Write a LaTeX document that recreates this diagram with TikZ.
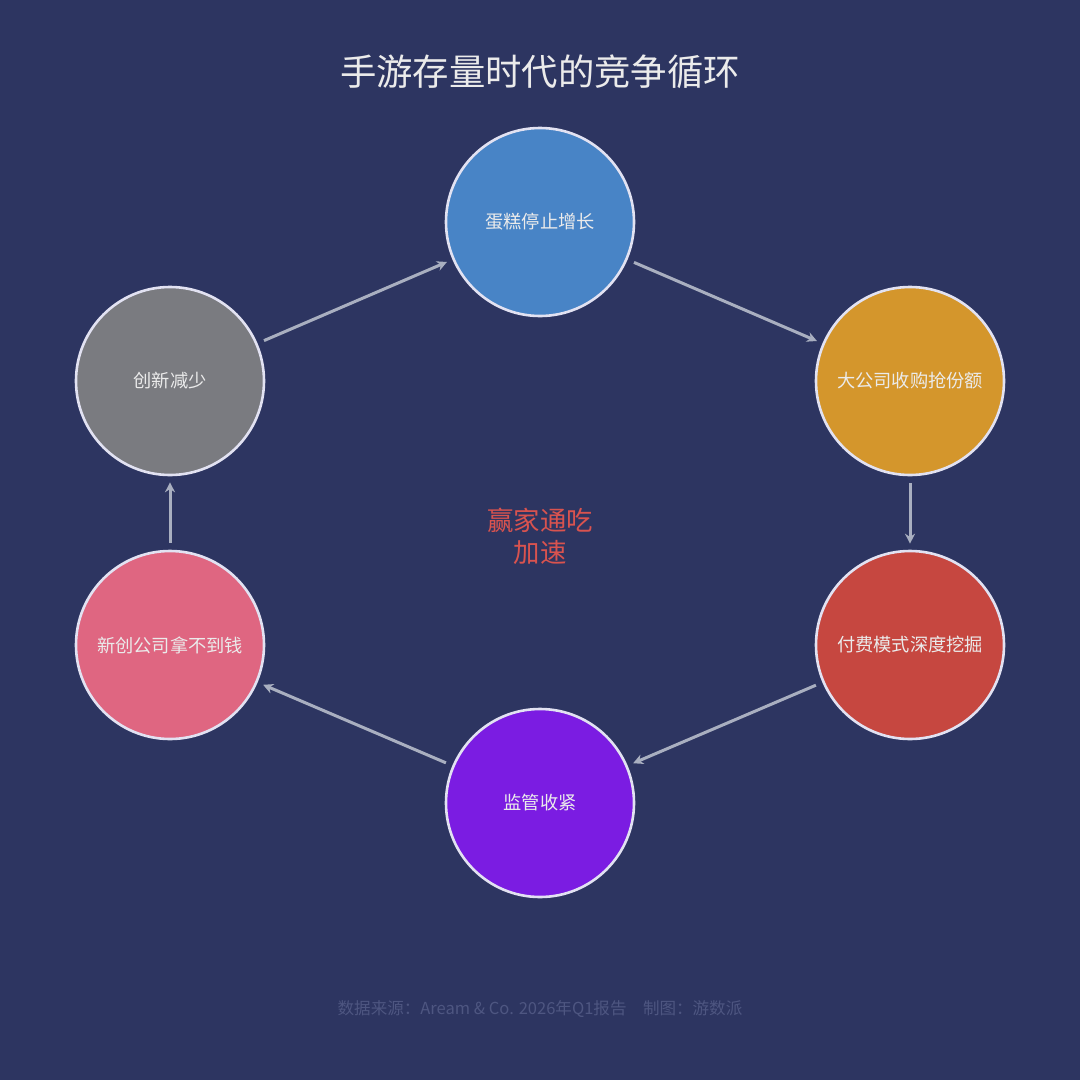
\documentclass[tikz,border=0pt]{standalone}
\usepackage{fontspec}
\setmainfont{Noto Sans CJK SC}
\usetikzlibrary{shapes.geometric, arrows.meta}

\definecolor{bgnavy}{HTML}{2D3561}
\definecolor{ringline}{HTML}{E2E2F2}
\definecolor{arrowgray}{HTML}{A9AFC0}
\definecolor{cakeblue}{HTML}{4884C6}
\definecolor{buyorange}{HTML}{D4962C}
\definecolor{payred}{HTML}{C64740}
\definecolor{rulepurple}{HTML}{7B1CE2}
\definecolor{startpink}{HTML}{DF6681}
\definecolor{ideagray}{HTML}{7A7B80}
\definecolor{winred}{HTML}{D9534F}
\definecolor{footgray}{HTML}{4E5681}

\begin{document}
\begin{tikzpicture}[x=1bp, y=-1bp]

% Define block styles
\tikzstyle{stage} = [circle, draw=ringline, line width=2.6bp, minimum size=188bp, inner sep=0pt, text=white!92!black, font=\fontsize{18.3}{20}\selectfont]
\tikzstyle{arrow} = [line width=3bp, draw=arrowgray, ->, >={Stealth[length=10bp,width=10bp]}, shorten >=6bp, shorten <=7bp]

% Background
\fill[bgnavy] (0,0) rectangle (1080,1080);
\useasboundingbox (0,0) rectangle (1080,1080);

% Title
\node (title) at (540,72) [text=white!92!black, font=\fontsize{36.5}{40}\selectfont] {手游存量时代的竞争循环};

% Nodes
\node (cake) [stage, fill=cakeblue] at (540,222) {蛋糕停止增长};
\node (acquire) [stage, fill=buyorange] at (910,381) {大公司收购抢份额};
\node (monetize) [stage, fill=payred] at (910,645) {付费模式深度挖掘};
\node (regulate) [stage, fill=rulepurple] at (540,803) {监管收紧};
\node (startup) [stage, fill=startpink] at (170,645) {新创公司拿不到钱};
\node (innovate) [stage, fill=ideagray] at (170,381) {创新减少};

% Centre text
\node (winner) at (540,536) [text=winred, align=center, font=\fontsize{26.5}{32}\selectfont] {赢家通吃\\加速};

% Arrows
\draw [arrow] (cake) -- (acquire);
\draw [arrow] (acquire) -- (monetize);
\draw [arrow] (monetize) -- (regulate);
\draw [arrow] (regulate) -- (startup);
\draw [arrow] (startup) -- (innovate);
\draw [arrow] (innovate) -- (cake);

% Footer
\node (source) at (540,1009) [text=footgray, font=\fontsize{16.6}{18}\selectfont] {数据来源：Aream \& Co. 2026年Q1报告\quad 制图：游数派};

\end{tikzpicture}
\end{document}
